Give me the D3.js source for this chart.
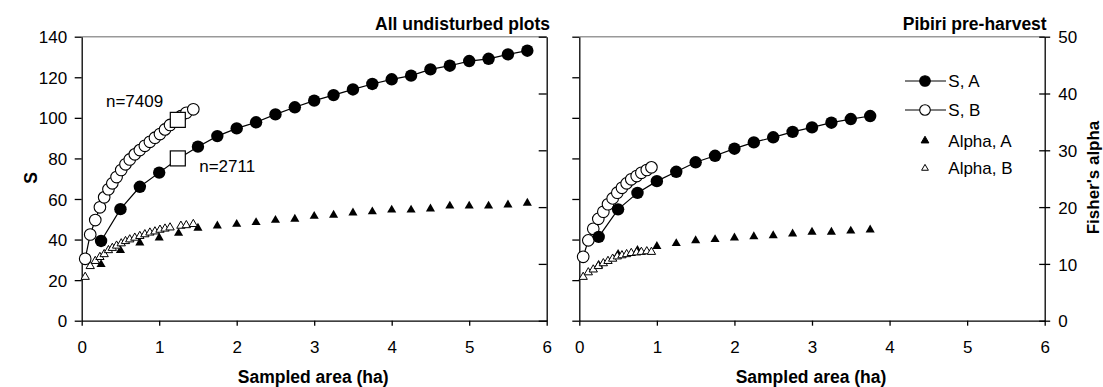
<!DOCTYPE html>
<html>
<head>
<meta charset="utf-8">
<script src="https://cdn.jsdelivr.net/npm/d3@7"></script>
<style>
  html, body { margin: 0; padding: 0; background: #fff; }
  svg { display: block; }
  text { font-family: "Liberation Sans", Arial, sans-serif; fill: #000; }
</style>
</head>
<body>
<svg id="chart" width="1103" height="387"></svg>
<script>
// ---- Data: species accumulation (S) and Fisher's alpha vs sampled area ----
// All undisturbed plots
const allAreaA   = [0.25,0.5,0.75,1.0,1.25,1.5,1.75,2.0,2.25,2.5,2.75,3.0,3.25,3.5,3.75,4.0,4.25,4.5,4.75,5.0,5.25,5.5,5.75];
const allSA      = [39.3,55,66,73,80,85.8,91,94.8,97.8,101.7,105.2,108.5,111.2,114,116.7,119,120.8,123.9,125.7,128,129.1,131.3,133.1];
const allAlphaA  = [9.9,12.4,13.7,14.6,15.4,16.3,16.7,17.0,17.3,17.7,17.9,18.4,18.6,19.0,19.2,19.5,19.5,19.7,20.2,20.2,20.2,20.4,20.7];
const allAreaB   = [0.045,0.11,0.175,0.235,0.29,0.345,0.395,0.45,0.51,0.565,0.62,0.685,0.75,0.815,0.88,0.945,1.01,1.075,1.14,1.28,1.35,1.44];
const allSB      = [30.5,42.5,49.6,55.9,60.8,64.8,67.7,70.8,74.3,77.1,79.5,82.0,84.1,86.2,88.2,90.2,92.0,94.3,96.5,100.8,102.5,104.2];
const allAlphaB  = [7.7,9.6,10.5,11.2,11.7,12.4,12.8,13.2,13.6,14.0,14.3,14.6,14.9,15.2,15.5,15.7,16.0,16.2,16.4,16.7,16.8,17.0];
// Sample-size markers on the two S curves
const markArea   = [1.24, 1.24];
const markS      = [80, 99];
const markLabel  = ["n=2711", "n=7409"];

// Pibiri pre-harvest
const pibAreaA   = [0.25,0.5,0.75,1.0,1.25,1.5,1.75,2.0,2.25,2.5,2.75,3.0,3.25,3.5,3.75];
const pibSA      = [41.3,54.9,63,68.8,73.4,78.1,81.3,84.8,87.9,90.4,93.1,95.3,97.6,99.4,100.9];
const pibAlphaA  = [9.8,11.7,12.4,13.1,13.6,14.1,14.3,14.6,14.8,15.0,15.3,15.6,15.6,15.8,16.0];
const pibAreaB   = [0.05,0.116,0.18,0.245,0.31,0.37,0.43,0.49,0.55,0.61,0.67,0.74,0.80,0.87,0.93];
const pibSB      = [31.5,39.6,45.3,50.2,53.7,57.4,60.3,63.1,65.5,67.7,69.7,71.3,72.9,74.3,75.6];
const pibAlphaB  = [7.7,8.5,9.0,9.6,10.1,10.5,10.9,11.3,11.5,11.7,11.9,12.0,12.1,12.2,12.1];

// Axis ticks and labels
const xTicks     = [0,1,2,3,4,5,6];
const sTicks     = [0,20,40,60,80,100,120,140];
const alphaTicks = [0,10,20,30,40,50];
const panelTitles = ["All undisturbed plots", "Pibiri pre-harvest"];
const xTitle     = "Sampled area (ha)";
const sTitle     = "S";
const alphaTitle = "Fisher's alpha";
const legendLabels = ["S, A", "S, B", "Alpha, A", "Alpha, B"];

// ---- Layout ----
const svg = d3.select("#chart");
const plotTop = 36.7, plotBottom = 320.7;
const panels = [
  { x0: 81.7,  x1: 546.7, title: panelTitles[0],
    areaA: allAreaA, SA: allSA, alphaA: allAlphaA, areaB: allAreaB, SB: allSB, alphaB: allAlphaB },
  { x0: 579.3, x1: 1044.7, title: panelTitles[1],
    areaA: pibAreaA, SA: pibSA, alphaA: pibAlphaA, areaB: pibAreaB, SB: pibSB, alphaB: pibAlphaB }
];

const yS = d3.scaleLinear().domain([0, 140]).range([plotBottom, plotTop]);
const yAlpha = d3.scaleLinear().domain([0, 50]).range([plotBottom, plotTop]);

const FONT = 17;
const triFilled = d3.symbol().type(d3.symbolTriangle).size(36);
const triOpen = d3.symbol().type(d3.symbolTriangle).size(30);

function styleAxis(g, labelled) {
  g.select(".domain").attr("stroke", "#000").attr("stroke-width", 1.3);
  g.selectAll(".tick line").attr("stroke", "#000").attr("stroke-width", 1.3);
  g.selectAll(".tick text").style("font-size", FONT + "px")
    .style("font-family", '"Liberation Sans", Arial, sans-serif')
    .attr("fill", "#000");
  if (!labelled) g.selectAll(".tick text").remove();
}

panels.forEach((p, i) => {
  const x = d3.scaleLinear().domain([0, 6]).range([p.x0, p.x1]);
  const g = svg.append("g");

  // grey frame line along the top
  g.append("line")
    .attr("x1", p.x0).attr("x2", p.x1).attr("y1", plotTop).attr("y2", plotTop)
    .attr("stroke", "#999").attr("stroke-width", 1.5);

  // x axis
  const gx = g.append("g").attr("transform", `translate(0,${plotBottom})`)
    .call(d3.axisBottom(x).tickValues(xTicks).tickFormat(d3.format("d"))
      .tickSizeInner(5).tickSizeOuter(0).tickPadding(16));
  styleAxis(gx, true);
  gx.selectAll(".tick text").attr("dy", null).attr("y", 32);

  // left S axis (labels only on the first panel)
  const gyl = g.append("g").attr("transform", `translate(${p.x0},0)`)
    .call(d3.axisLeft(yS).tickValues(sTicks).tickSizeInner(7).tickSizeOuter(0).tickPadding(7.5));
  styleAxis(gyl, i === 0);
  gyl.selectAll(".tick text").attr("dy", "0.36em");

  // right alpha axis
  if (i === 0) {
    const gyr = g.append("g").attr("transform", `translate(${p.x1},0)`)
      .call(d3.axisLeft(yAlpha).tickValues(alphaTicks).tickSizeInner(8).tickSizeOuter(0));
    styleAxis(gyr, false);
    gyr.selectAll(".tick line").attr("x2", -8);
  } else {
    const gyr = g.append("g").attr("transform", `translate(${p.x1},0)`)
      .call(d3.axisRight(yAlpha).tickValues(alphaTicks).tickSizeInner(5.5).tickSizeOuter(0).tickPadding(8));
    styleAxis(gyr, true);
    gyr.selectAll(".tick line").attr("x1", -5.5);
    gyr.selectAll(".tick text").attr("dy", "0.36em");
  }

  // panel title
  g.append("text")
    .attr("x", i === 0 ? 550 : 1046.7).attr("y", i === 0 ? 30 : 29.5)
    .attr("text-anchor", "end")
    .style("font-size", "17.5px").style("font-weight", "bold")
    .text(p.title);

  // x title
  g.append("text")
    .attr("x", (p.x0 + p.x1) / 2 - 1).attr("y", 383)
    .attr("text-anchor", "middle")
    .style("font-size", "17.5px").style("font-weight", "bold")
    .text(xTitle);

  const ptsA = p.areaA.map((a, k) => ({ a, s: p.SA[k], al: p.alphaA[k] }));
  const ptsB = p.areaB.map((a, k) => ({ a, s: p.SB[k], al: p.alphaB[k] }));
  const line = d3.line().x(d => x(d.a)).y(d => yS(d.s));

  // Fisher's alpha, series A (filled triangles)
  g.selectAll(null).data(ptsA).join("path")
    .attr("d", triFilled)
    .attr("transform", d => `translate(${x(d.a)},${yAlpha(d.al)})`)
    .attr("fill", "#000");
  // Fisher's alpha, series B (open triangles)
  g.selectAll(null).data(ptsB).join("path")
    .attr("d", triOpen)
    .attr("transform", d => `translate(${x(d.a)},${yAlpha(d.al)})`)
    .attr("fill", "#fff").attr("stroke", "#000").attr("stroke-width", 1);

  // S, B: line + open circles
  g.append("path").datum(ptsB).attr("d", line)
    .attr("fill", "none").attr("stroke", "#000").attr("stroke-width", 1.2);
  g.selectAll(null).data(ptsB).join("circle")
    .attr("cx", d => x(d.a)).attr("cy", d => yS(d.s)).attr("r", 5.8)
    .attr("fill", "#fff").attr("stroke", "#000").attr("stroke-width", 1.1);

  // S, A: line + filled circles
  g.append("path").datum(ptsA).attr("d", line)
    .attr("fill", "none").attr("stroke", "#000").attr("stroke-width", 1.2);
  g.selectAll(null).data(ptsA).join("circle")
    .attr("cx", d => x(d.a)).attr("cy", d => yS(d.s)).attr("r", 6.2)
    .attr("fill", "#000");

  if (i === 0) {
    // sample-size markers
    const marks = markArea.map((a, k) => ({ a, s: markS[k], label: markLabel[k] }));
    g.selectAll(null).data(marks).join("rect")
      .attr("x", d => x(d.a) - 7.5).attr("y", d => yS(d.s) - 7.5)
      .attr("width", 15).attr("height", 15)
      .attr("fill", "#fff").attr("stroke", "#000").attr("stroke-width", 1.2);
    g.selectAll(null).data(marks).join("text")
      .attr("x", (d, k) => k === 0 ? x(d.a) + 21.4 : x(d.a) - 14.6)
      .attr("y", (d, k) => k === 0 ? yS(d.s) + 13.7 : yS(d.s) - 12.7)
      .attr("text-anchor", (d, k) => k === 0 ? "start" : "end")
      .style("font-size", FONT + "px")
      .text(d => d.label);
  }
});

// Axis titles
svg.append("text")
  .attr("transform", "translate(37,178) rotate(-90)")
  .attr("text-anchor", "middle")
  .style("font-size", "17.5px").style("font-weight", "bold")
  .text(sTitle);
svg.append("text")
  .attr("transform", "translate(1098.5,177.5) rotate(-90)")
  .attr("text-anchor", "middle")
  .style("font-size", "17px").style("font-weight", "bold")
  .text(alphaTitle);

// Legend
const legend = svg.append("g");
const legRows = [81, 110, 140.7, 168.3];
legendLabels.forEach((lab, k) => {
  const cy = legRows[k];
  if (k < 2) {
    legend.append("line").attr("x1", 905).attr("x2", 946).attr("y1", cy).attr("y2", cy)
      .attr("stroke", "#000").attr("stroke-width", 1.2);
    legend.append("circle").attr("cx", 925).attr("cy", cy).attr("r", 5.3)
      .attr("fill", k === 0 ? "#000" : "#fff").attr("stroke", "#000").attr("stroke-width", 1.1);
  } else {
    legend.append("path")
      .attr("d", d3.symbol().type(d3.symbolTriangle).size(k === 2 ? 26 : 20)())
      .attr("transform", `translate(925,${cy})`)
      .attr("fill", k === 2 ? "#000" : "#fff").attr("stroke", "#000").attr("stroke-width", 1);
  }
  legend.append("text").attr("x", 948.3).attr("y", cy + 6)
    .style("font-size", FONT + "px").text(lab);
});
</script>
</body>
</html>
